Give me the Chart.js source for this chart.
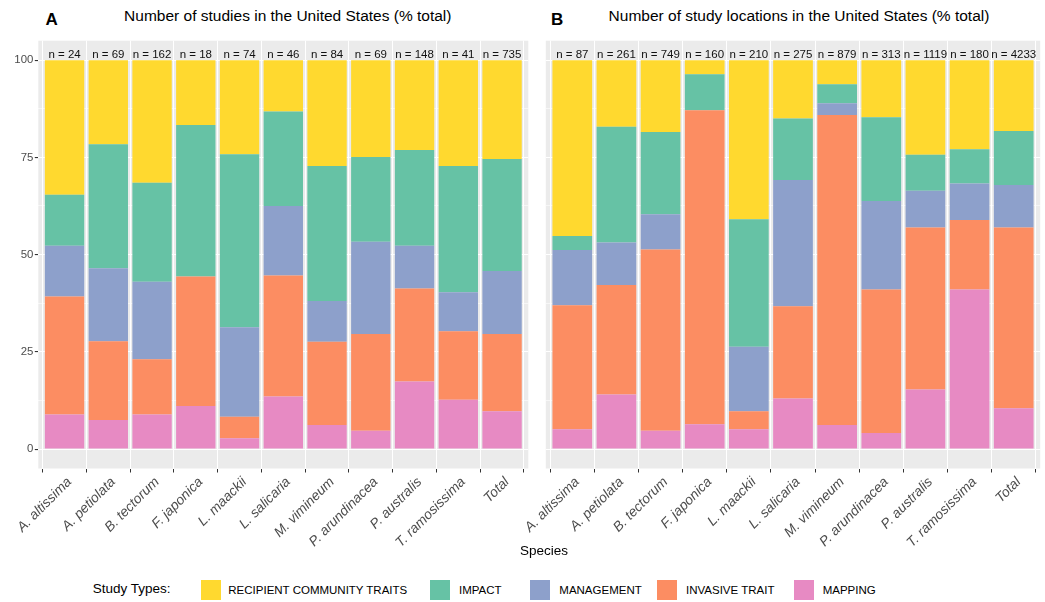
<!DOCTYPE html>
<html>
<head>
<meta charset="utf-8">
<script src="https://cdn.jsdelivr.net/npm/chart.js@4.4.1/dist/chart.umd.min.js"></script>
<style>
  html, body { margin: 0; padding: 0; background: #fff; }
  body { width: 1045px; height: 602px; position: relative; overflow: hidden;
         font-family: "Liberation Sans", Arial, sans-serif; color: #000; }
  .txt { position: absolute; white-space: nowrap; line-height: 1; }
  .tag { font-weight: bold; font-size: 17px; }
  .title { font-size: 15.5px; transform: translateX(-50%); }
  .axis-title { font-size: 13.5px; transform: translateX(-50%); }
  .leg-title { font-size: 13.5px; }
  .leg-text { font-size: 11.5px; }
  .swatch { position: absolute; width: 20px; height: 20px; }
  canvas { position: absolute; top: 0; }
</style>
</head>
<body>
<div class="txt tag" style="left:45.5px; top:11px;">A</div>
<div class="txt title" style="left:287.8px; top:7.5px;">Number of studies in the United States (% total)</div>
<div class="txt tag" style="left:551px; top:11px;">B</div>
<div class="txt title" style="left:799px; top:7.5px;">Number of study locations in the United States (% total)</div>

<canvas id="chartA" width="540" height="570" style="left:0px;"></canvas>
<canvas id="chartB" width="530" height="570" style="left:515px;"></canvas>

<div class="txt axis-title" style="left:544px; top:544px;">Species</div>

<div id="legend"></div>

<script>
// Species on the x axis (same order in both panels)
const species = ['A. altissima', 'A. petiolata', 'B. tectorum', 'F. japonica', 'L. maackii',
  'L. salicaria', 'M. vimineum', 'P. arundinacea', 'P. australis', 'T. ramosissima', 'Total'];

// Sample sizes printed above each bar
const nStudies   = [24, 69, 162, 18, 74, 46, 84, 69, 148, 41, 735];
const nLocations = [87, 261, 749, 160, 210, 275, 879, 313, 1119, 180, 4233];

// Study types, listed top of stack first
const studyTypes = ['RECIPIENT COMMUNITY TRAITS', 'IMPACT', 'MANAGEMENT', 'INVASIVE TRAIT', 'MAPPING'];

// Panel A: share of studies (% of total) per study type
const studiesRecipient  = [34.6, 21.6, 31.5, 16.7, 24.2, 13.2, 27.2, 24.9, 23.1, 27.2, 25.4];
const studiesImpact     = [13.1, 31.9, 25.5, 38.9, 44.5, 24.3, 34.7, 21.8, 24.6, 32.5, 28.8];
const studiesManagement = [13.1, 18.8, 19.9,  0.0, 23.0, 17.9, 10.5, 23.7, 11.0, 10.0, 16.2];
const studiesInvasive   = [30.3, 20.2, 14.2, 33.3,  5.5, 31.1, 21.4, 24.9, 23.9, 17.6, 19.9];
const studiesMapping    = [ 8.9,  7.5,  8.9, 11.1,  2.8, 13.5,  6.2,  4.7, 17.4, 12.7,  9.7];

// Panel B: share of study locations (% of total) per study type
const locRecipient  = [45.2, 17.1, 18.5,  3.6, 40.9, 15.0,  6.2, 14.7, 24.3, 22.9, 18.2];
const locImpact     = [ 3.6, 29.8, 21.1,  9.3, 32.8, 15.8,  4.9, 21.5,  9.3,  8.8, 13.9];
const locManagement = [14.2, 10.9,  9.1,  0.0, 16.6, 32.5,  3.0, 22.8,  9.4,  9.4, 10.9];
const locInvasive   = [31.9, 28.2, 46.6, 80.7,  4.6, 23.7, 79.7, 36.9, 41.7, 17.9, 46.5];
const locMapping    = [ 5.1, 14.0,  4.7,  6.4,  5.1, 13.0,  6.2,  4.1, 15.3, 41.0, 10.5];

// y axis: major ticks labelled, minor ticks only as grid lines
const yMajorTicks = [0, 25, 50, 75, 100];
const yMinorTicks = [12.5, 37.5, 62.5, 87.5];

// Set2-style colours, keyed by study type
const typeColors = {
  'RECIPIENT COMMUNITY TRAITS': '#FFD92F',
  'IMPACT': '#66C2A5',
  'MANAGEMENT': '#8DA0CB',
  'INVASIVE TRAIT': '#FC8D62',
  'MAPPING': '#E78AC3'
};

Chart.defaults.font.family = '"Liberation Sans", Arial, sans-serif';

// Grey panel background plus "n = ..." labels over the bars
const panelPlugin = {
  id: 'panel',
  beforeDraw(chart) {
    const { ctx, chartArea: a } = chart;
    ctx.save();
    ctx.fillStyle = '#EBEBEB';
    ctx.fillRect(a.left, a.top, a.right - a.left, a.bottom - a.top);
    ctx.restore();
  },
  afterDatasetsDraw(chart, args, opts) {
    const { ctx } = chart;
    const xs = chart.scales.x, ys = chart.scales.y;
    ctx.save();
    ctx.font = '11.5px "Liberation Sans", Arial, sans-serif';
    ctx.fillStyle = '#111';
    ctx.textAlign = 'center';
    ctx.textBaseline = 'middle';
    opts.counts.forEach((n, i) => {
      ctx.fillText('n = ' + n, xs.getPixelForValue(i + 1), ys.getPixelForValue(opts.labelAt));
    });
    ctx.restore();
  }
};

function makeChart(id, stacks, counts, yAxisWidth, padRight, showYLabels) {
  const series = [
    ['MAPPING', stacks.mapping],
    ['INVASIVE TRAIT', stacks.invasive],
    ['MANAGEMENT', stacks.management],
    ['IMPACT', stacks.impact],
    ['RECIPIENT COMMUNITY TRAITS', stacks.recipient]
  ];
  const canvas = document.getElementById(id);
  const xAxisHeight = canvas.height - 468.5;
  const isMajor = v => yMajorTicks.includes(v);

  return new Chart(canvas, {
    type: 'bar',
    data: {
      datasets: series.map(([name, vals]) => ({
        label: name,
        data: vals.map((v, i) => ({ x: i + 1, y: v })),
        backgroundColor: typeColors[name],
        borderWidth: 0,
        barPercentage: 0.9,
        categoryPercentage: 1.0
      }))
    },
    options: {
      responsive: false,
      animation: false,
      devicePixelRatio: 1,
      events: [],
      layout: { padding: { top: 40.7, right: padRight, left: 0, bottom: 0 } },
      plugins: {
        legend: { display: false },
        tooltip: { enabled: false },
        panel: { counts: counts, labelAt: 101.4 }
      },
      scales: {
        x: {
          type: 'linear',
          min: 0.4,
          max: 11.6,
          stacked: true,
          offset: false,
          afterBuildTicks: s => { s.ticks = species.map((_, i) => ({ value: i + 1 })); },
          afterFit: s => { s.height = xAxisHeight; s.paddingLeft = 0; s.paddingRight = 0; },
          border: { display: false },
          grid: { color: '#FFFFFF', lineWidth: 1.0, tickColor: '#333333', tickLength: 4 },
          ticks: {
            autoSkip: false,
            minRotation: 45,
            maxRotation: 45,
            padding: 1.5,
            labelOffset: 5,
            color: '#4D4D4D',
            font: { size: 13.8, style: 'italic' },
            callback: v => species[v - 1]
          }
        },
        y: {
          min: -5,
          max: 105,
          stacked: true,
          afterBuildTicks: s => {
            s.ticks = yMajorTicks.concat(yMinorTicks).sort((a, b) => a - b).map(v => ({ value: v }));
          },
          afterFit: s => { s.width = yAxisWidth; },
          border: { display: false },
          grid: {
            color: '#FFFFFF',
            lineWidth: c => (c.tick && isMajor(c.tick.value)) ? 1.1 : 0.55,
            tickColor: c => (showYLabels && c.tick && isMajor(c.tick.value)) ? '#333333' : 'rgba(0,0,0,0)',
            tickLength: 3.5
          },
          ticks: {
            display: showYLabels,
            padding: 1.5,
            color: '#4D4D4D',
            font: { size: 11.4 },
            callback: v => isMajor(v) ? String(v) : ''
          }
        }
      }
    },
    plugins: [panelPlugin]
  });
}

makeChart('chartA', {
  recipient: studiesRecipient, impact: studiesImpact, management: studiesManagement,
  invasive: studiesInvasive, mapping: studiesMapping
}, nStudies, 38.3, 540 - 528.3, true);

makeChart('chartB', {
  recipient: locRecipient, impact: locImpact, management: locManagement,
  invasive: locInvasive, mapping: locMapping
}, nLocations, 545.8 - 515, 1045 - 1040.2, false);

// Legend row along the bottom
const legendItems = [
  { type: 'RECIPIENT COMMUNITY TRAITS', box: 201, text: 228.3 },
  { type: 'IMPACT', box: 430, text: 459 },
  { type: 'MANAGEMENT', box: 530, text: 559.3 },
  { type: 'INVASIVE TRAIT', box: 656.7, text: 686 },
  { type: 'MAPPING', box: 794, text: 822.7 }
];
const legend = document.getElementById('legend');
const head = document.createElement('div');
head.className = 'txt leg-title';
head.style.left = '92.7px';
head.style.top = '582px';
head.textContent = 'Study Types:';
legend.appendChild(head);
legendItems.forEach(item => {
  const sw = document.createElement('div');
  sw.className = 'swatch';
  sw.style.left = item.box + 'px';
  sw.style.top = '580px';
  sw.style.background = typeColors[item.type];
  legend.appendChild(sw);
  const t = document.createElement('div');
  t.className = 'txt leg-text';
  t.style.left = item.text + 'px';
  t.style.top = '585px';
  t.textContent = item.type;
  legend.appendChild(t);
});
</script>
</body>
</html>
